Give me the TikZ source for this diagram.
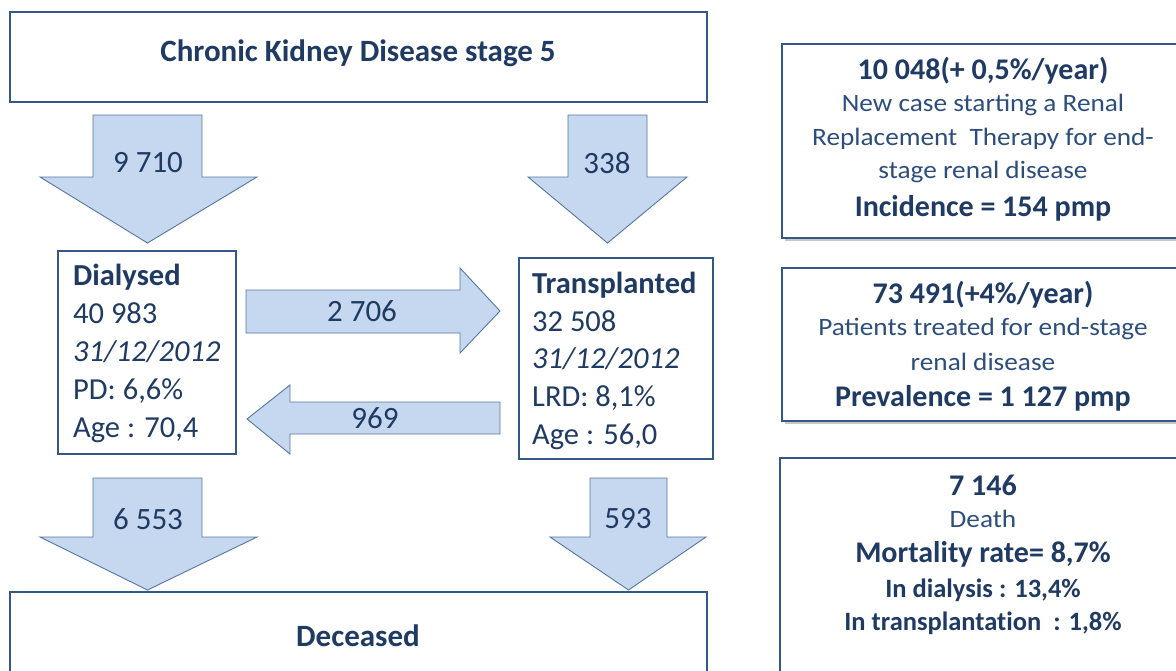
\documentclass[tikz,border=0pt]{standalone}
\usepackage{fontspec}
\setmainfont{Carlito}[Ligatures=NoCommon]
\newfontfamily\widefont{Carlito}[FakeStretch=1.09]
\definecolor{boxline}{HTML}{34578A}
\definecolor{txt}{HTML}{1F3A63}
\definecolor{txtl}{HTML}{2D4E7C}
\definecolor{arrfill}{HTML}{C6D8EF}
\definecolor{arrline}{HTML}{55779F}
\tikzset{
  frame/.style={draw=boxline, line width=2.4pt, fill=white},
  blockarrow/.style={draw=arrline, line width=0.9pt, fill=arrfill, line join=miter},
  arrlabel/.style={text=txt, font=\fontsize{31}{34}\selectfont, inner sep=0pt},
  bigtitle/.style={text=txt, font=\fontsize{31}{34}\selectfont\bfseries, inner sep=0pt},
  statline/.style={text=txt, anchor=base west, inner sep=0pt, font=\fontsize{30.5}{34}\selectfont},
  rtitle/.style={text=txt, inner sep=0pt, font=\fontsize{30}{34}\selectfont\bfseries},
  rbody/.style={text=txtl, inner sep=0pt, font=\fontsize{25}{28}\widefont},
  rsmall/.style={text=txt, inner sep=0pt, font=\fontsize{26.5}{30}\selectfont\bfseries},
  shadowbox/.style={fill=black!22, draw=none}
}
\newcommand{\downarrowshape}[7]{%
  \path[blockarrow] (#1,#3) -- (#2,#3) -- (#2,#4) -- (#6,#4) -- ({(#1+#2)/2},#7) -- (#5,#4) -- (#1,#4) -- cycle;}
\begin{document}
\begin{tikzpicture}[x=1pt,y=-1pt]
\useasboundingbox (0,0) rectangle (1176,670);
\fill[white] (0,0) rectangle (1176,670);

% main boxes
\path[frame] (10,12) rectangle (707,102);
\node[bigtitle] (ckd) at (358,53) {Chronic Kidney Disease stage 5};

\path[frame] (58,251) rectangle (236,454);
\node[statline, font=\fontsize{30.5}{34}\selectfont\bfseries] (dial) at (73,285) {Dialysed};
\node[statline] (d1) at (73,323) {40 983};
\node[statline, font=\fontsize{30.5}{34}\selectfont\itshape] (d2) at (73,361) {31/12/2012};
\node[statline] (d3) at (73,399) {PD: 6,6\%};
\node[statline] (d4) at (73,437) {Age : 70,4};

\path[frame] (519,258) rectangle (713,459);
\node[statline, font=\fontsize{30.5}{34}\selectfont\bfseries] (trans) at (532,293) {Transplanted};
\node[statline] (t1) at (532,331) {32 508};
\node[statline, font=\fontsize{30.5}{34}\selectfont\itshape] (t2) at (532,368) {31/12/2012};
\node[statline] (t3) at (532,406) {LRD: 8,1\%};
\node[statline] (t4) at (532,444) {Age : 56,0};

\path[frame] (10,592) rectangle (707,680);
\node[bigtitle] (dec) at (358,636) {Deceased};

% block arrows
\downarrowshape{93}{202}{115}{177}{40}{257}{243}
\node[arrlabel] (a1) at (148,163) {9 710};
\downarrowshape{568}{647}{115}{177}{528}{687}{243}
\node[arrlabel] (a2) at (607,163) {338};
\downarrowshape{93}{202}{478}{537}{40}{257}{590}
\node[arrlabel] (a3) at (148,519) {6 553};
\downarrowshape{590}{667}{478}{537}{550}{706}{590}
\node[arrlabel] (a4) at (628,519) {593};

\path[blockarrow] (246,290) -- (460,290) -- (460,268) -- (500,311) -- (460,353) -- (460,333) -- (246,333) -- cycle;
\node[arrlabel] (a5) at (362,311) {2 706};
\path[blockarrow] (500,402) -- (290,402) -- (290,385) -- (247,419) -- (290,454) -- (290,434) -- (500,434) -- cycle;
\node[arrlabel] (a6) at (375,418) {969};

% right boxes with shadows
\fill[shadowbox] (785,47) rectangle (1180,241);
\path[frame] (782,44) rectangle (1180,238);
\node[rtitle] (i1) at (983,71) {10 048(+ 0,5\%/year)};
\node[rbody] (i2) at (983,105) {New case starting a Renal};
\node[rbody] (i3) at (983,139) {Replacement\ \ Therapy for end-};
\node[rbody] (i4) at (983,172) {stage renal disease};
\node[rtitle] (i5) at (983,208) {Incidence = 154 pmp};

\fill[shadowbox] (785,271) rectangle (1180,424);
\path[frame] (782,268) rectangle (1180,421);
\node[rtitle] (p1) at (983,295) {73 491(+4\%/year)};
\node[rbody] (p2) at (983,329) {Patients treated for end-stage};
\node[rbody] (p3) at (983,362) {renal disease};
\node[rtitle] (p4) at (983,398) {Prevalence = 1 127 pmp};

\fill[shadowbox] (783,461) rectangle (1180,680);
\path[frame] (780,458) rectangle (1180,680);
\node[rtitle] (m1) at (983,485) {7 146};
\node[rbody] (m2) at (983,519) {Death};
\node[rtitle] (m3) at (983,554) {Mortality rate= 8,7\%};
\node[rsmall] (m4) at (983,590) {In dialysis : 13,4\%};
\node[rsmall] (m5) at (983,623) {In transplantation\ \ : 1,8\%};
\end{tikzpicture}
\end{document}
